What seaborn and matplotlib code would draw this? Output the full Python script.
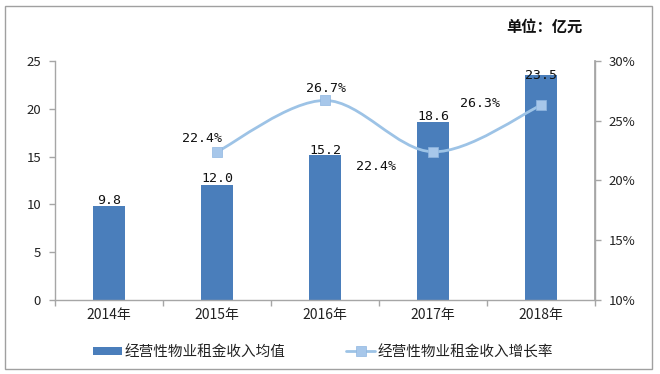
import matplotlib
matplotlib.use("Agg")
import matplotlib.pyplot as plt
import seaborn as sns
import numpy as np
import pandas as pd
from matplotlib.path import Path
from matplotlib.patches import PathPatch, Rectangle, Patch
from matplotlib.lines import Line2D
from matplotlib.ticker import FuncFormatter, MultipleLocator, FixedLocator

# ---- data ----
years = ["2014年", "2015年", "2016年", "2017年", "2018年"]
income = [9.8, 12.0, 15.2, 18.6, 23.5]
growth_years = ["2015年", "2016年", "2017年", "2018年"]
growth = [22.4, 26.7, 22.4, 26.3]
growth_labels = ["22.4%", "26.7%", "22.4%", "26.3%"]
bar_name = "经营性物业租金收入均值"
line_name = "经营性物业租金收入增长率"
unit_text = "单位：亿元"

sns.set_theme(style="white")
plt.rcParams["font.family"] = ["Noto Sans CJK SC", "DejaVu Sans"]
plt.rcParams["axes.unicode_minus"] = False

BAR = "#4A7EBB"
LINE = "#9DC3E6"
MARK = "#A7C7EA"
AXC = "#A6A6A6"

fig = plt.figure(figsize=(6.6, 3.74), dpi=100)
ax = fig.add_axes([55/660, 1-300/374, 540/660, 239/374])

df = pd.DataFrame({"year": years, "income": income})
sns.barplot(data=df, x="year", y="income", ax=ax, color=BAR, width=0.3,
            saturation=1, edgecolor="none")
ax.set_xlim(-0.5, 4.5)
ax.set_ylim(0, 25)
ax.set_xlabel("")
ax.set_ylabel("")
ax.yaxis.set_major_locator(MultipleLocator(5))

ax.spines["top"].set_visible(False)
for s in ["left", "bottom", "right"]:
    ax.spines[s].set_color(AXC)
    ax.spines[s].set_linewidth(1.0)

ax.tick_params(axis="y", direction="out", length=4, color=AXC, width=1,
               labelsize=9.5, labelcolor="#222222", pad=6, left=True)
ax.tick_params(axis="x", which="major", length=0, labelsize=10,
               labelcolor="#222222", pad=6)
ax.xaxis.set_minor_locator(FixedLocator([-0.5, 0.5, 1.5, 2.5, 3.5, 4.5]))
ax.tick_params(axis="x", which="minor", direction="out", length=4, color=AXC,
               width=1, bottom=True)

# bar value labels
bar_offsets = [6, 7, 4.5, 6, 0]  # pixels above bar top (style)
for i, (v, off) in enumerate(zip(income, bar_offsets)):
    ax.annotate(f"{v:.1f}", xy=(i, v), xytext=(0, off), textcoords="offset pixels",
                ha="center", va="center", fontsize=9.5, family="DejaVu Sans Mono",
                color="#111111")

# secondary axis with growth line
ax2 = ax.twinx()
ax2.set_ylim(10, 30)
ax2.set_xlim(-0.5, 4.5)
gx = [years.index(y) for y in growth_years]
pts = np.column_stack([gx, growth]).astype(float)

# smooth (Catmull-Rom rendered as cubic Bezier) through data points
ext = np.vstack([pts[0], pts, pts[-1]])
verts = [tuple(pts[0])]
codes = [Path.MOVETO]
for k in range(1, len(ext) - 2):
    p0, p1, p2, p3 = ext[k-1], ext[k], ext[k+1], ext[k+2]
    c1 = p1 + (p2 - p0) / 6.0
    c2 = p2 - (p3 - p1) / 6.0
    verts += [tuple(c1), tuple(c2), tuple(p2)]
    codes += [Path.CURVE4] * 3
ax2.add_patch(PathPatch(Path(verts, codes), facecolor="none", edgecolor=LINE,
                        lw=2.0, zorder=3))
sns.scatterplot(x=gx, y=growth, ax=ax2, marker="s", s=60, color=MARK,
                edgecolor="#8FB6E0", linewidth=0.5, zorder=4, legend=False)

ax2.yaxis.set_major_locator(MultipleLocator(5))
ax2.yaxis.set_major_formatter(FuncFormatter(lambda v, p: f"{v:.0f}%"))
ax2.tick_params(axis="y", direction="out", length=4, color=AXC, width=1,
                labelsize=9.5, labelcolor="#222222", pad=6, right=True)
for s in ["top", "left", "bottom"]:
    ax2.spines[s].set_visible(False)
ax2.spines["right"].set_color(AXC)
ax2.set_ylabel("")
ax2.grid(False)
ax.grid(False)

pct_offsets = [(-15, 13), (1, 12), (-57, -15), (-61, 2)]
for (x, y), lab, (dx, dy) in zip(pts, growth_labels, pct_offsets):
    ax2.annotate(lab, xy=(x, y), xytext=(dx, dy), textcoords="offset pixels",
                 ha="center", va="center", fontsize=9.5, family="DejaVu Sans Mono",
                 color="#111111")

# unit text
fig.text(544/660, 1-27/374, unit_text, ha="center", va="center",
         fontsize=11, fontweight="bold", color="#111111")

# legend
handles = [Patch(facecolor=BAR, edgecolor="none"),
           Line2D([0], [0], color=LINE, lw=2.0, marker="s", markersize=6.5,
                  markerfacecolor=MARK, markeredgecolor="#8FB6E0", markeredgewidth=0.5)]
fig.legend(handles, [bar_name, line_name], loc="center", ncol=2,
           bbox_to_anchor=(323/660, 1-352/374), frameon=False, fontsize=10.5,
           handlelength=2.0, handleheight=0.5, handletextpad=0.15,
           columnspacing=4.2, labelcolor="#222222")

# outer border
fig.patches.append(Rectangle((5/660, 1-369/374), 647/660, 363/374,
                             transform=fig.transFigure, fill=False,
                             edgecolor="#A0A0A0", lw=1.0))

fig.savefig("out.png", dpi=100)
